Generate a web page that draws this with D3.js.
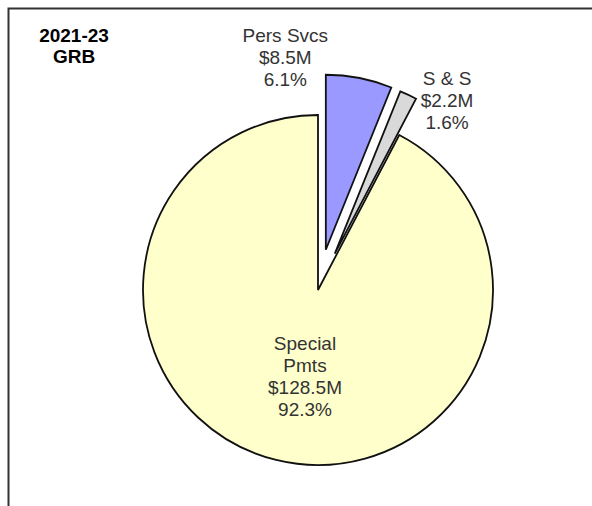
<!DOCTYPE html>
<html>
<head>
<meta charset="utf-8">
<script src="https://cdn.jsdelivr.net/npm/d3@7"></script>
<style>
  body { margin: 0; background: #fff; }
  text { font-family: "Liberation Sans", Arial, sans-serif; }
</style>
</head>
<body>
<script>
// budget pie, 2021-23 GRB
var categories = ["Pers Svcs", "S & S", "Special Pmts"];
var labelLines = [["Pers Svcs"], ["S & S"], ["Special", "Pmts"]];
var amounts = [8.5, 2.2, 128.5];          // $M
var percents = ["6.1%", "1.6%", "92.3%"];
var colors = ["#9999ff", "#d9d9d9", "#ffffcc"];
var titleLines = ["2021-23", "GRB"];

var width = 592, height = 506;
var cx = 318, cy = 290, radius = 175;
var explode = [41, 40, 0];
// label anchor: [angle deg from 12 o'clock, distance from centre]
var labelAnchor = [[-8, 235], [34.3, 229], [188.6, 87]];

var svg = d3.select("body").append("svg")
    .attr("width", width)
    .attr("height", height);

// frame (top + left only visible)
svg.append("path")
    .attr("d", "M8.5," + height + "V8.5H" + width)
    .attr("fill", "none")
    .attr("stroke", "#333")
    .attr("stroke-width", 2);

var pie = d3.pie().sort(null).value(function(d) { return d; });
var arcs = pie(amounts);
var arc = d3.arc().innerRadius(0).outerRadius(radius);

var g = svg.append("g").attr("transform", "translate(" + cx + "," + cy + ")");

g.selectAll("path.slice")
    .data(arcs)
    .enter()
    .append("path")
    .attr("class", "slice")
    .attr("d", arc)
    .attr("fill", function(d, i) { return colors[i]; })
    .attr("stroke", "#111")
    .attr("stroke-width", 1.8)
    .attr("stroke-linejoin", "miter")
    .attr("transform", function(d, i) {
      var a = (d.startAngle + d.endAngle) / 2;
      return "translate(" + (explode[i] * Math.sin(a)) + "," + (-explode[i] * Math.cos(a)) + ")";
    });

var lineH = 22;
arcs.forEach(function(d, i) {
  var a = labelAnchor[i][0] * Math.PI / 180, r = labelAnchor[i][1];
  var x = r * Math.sin(a), y = -r * Math.cos(a);
  var lines = labelLines[i].concat(["$" + amounts[i].toFixed(1) + "M", percents[i]]);
  var y0 = y - (lines.length - 1) * lineH / 2;
  var t = g.append("text")
      .attr("text-anchor", "middle")
      .attr("font-size", 19)
      .attr("fill", "#333");
  lines.forEach(function(s, k) {
    t.append("tspan")
      .attr("x", x)
      .attr("y", y0 + k * lineH)
      .attr("dy", "0.35em")
      .text(s);
  });
});

var title = svg.append("text")
    .attr("text-anchor", "middle")
    .attr("font-size", 19)
    .attr("font-weight", "bold")
    .attr("fill", "#000");
titleLines.forEach(function(s, k) {
  title.append("tspan").attr("x", 74).attr("y", 42 + k * 21).text(s);
});
</script>
</body>
</html>
